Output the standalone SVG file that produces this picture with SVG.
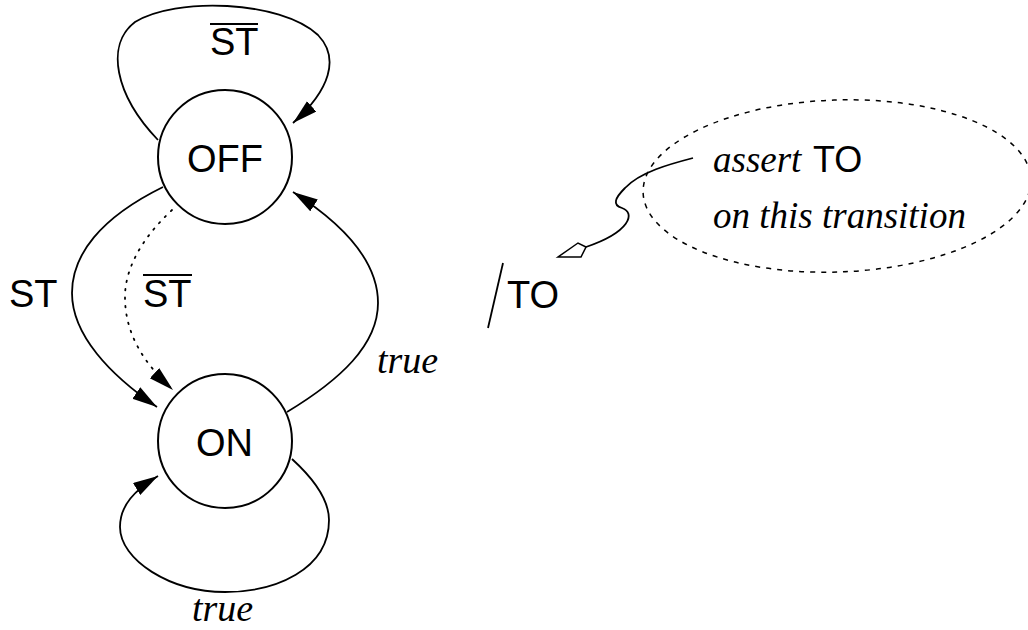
<svg xmlns="http://www.w3.org/2000/svg" width="1028" height="630" viewBox="0 0 1028 630">
<defs>
<marker id="arr" markerUnits="userSpaceOnUse" markerWidth="28" markerHeight="16" refX="25" refY="7" orient="auto">
<path d="M0,0 L25,7 L0,14 z" fill="#000"/>
</marker>
<style>
.st{fill:#fff;stroke:#000;stroke-width:2}
.e{fill:none;stroke:#000;stroke-width:1.8}
.sans{font-family:"Liberation Sans",Arial,sans-serif;font-size:38px;fill:#000}
.ser{font-family:"Liberation Serif","Times New Roman",serif;font-style:italic;font-size:38px;fill:#000}
.ov{stroke:#000;stroke-width:2}
</style>
</defs>
<rect width="1028" height="630" fill="#fff"/>
<g id="connectors">
<path class="e" d="M158,140 C115,95 105,45 135,22 C175,-3 280,0 318,35 C340,58 330,90 293,123" marker-end="url(#arr)"/>
<path class="e" d="M163,187 C100,218 72,255 72,293 C72,335 110,375 157,407" marker-end="url(#arr)"/>
<path class="e" d="M172,210 C140,240 125,270 125,297 C125,330 140,360 173,390" stroke-dasharray="1.5 7" stroke-linecap="round" marker-end="url(#arr)"/>
<path class="e" d="M287,412 C340,380 378,345 378,303 C378,260 340,222 293,192" marker-end="url(#arr)"/>
<path class="e" d="M292,459 C315,480 329,500 329,520 C329,570 275,592 225,592 C170,592 120,560 120,527 C120,505 135,490 158,476" marker-end="url(#arr)"/>
</g>
<g id="OFF">
<circle class="st" cx="225" cy="157" r="67"/>
<text class="sans" x="187" y="172">OFF</text>
</g>
<g id="ON">
<circle class="st" cx="225" cy="441" r="67"/>
<text class="sans" x="196" y="456">ON</text>
</g>
<g id="labels">
<text class="sans" x="210" y="55">ST</text>
<line class="ov" x1="210" y1="24" x2="258" y2="24"/>
<text class="sans" x="9" y="307">ST</text>
<text class="sans" x="143" y="307">ST</text>
<line class="ov" x1="143" y1="275" x2="192" y2="275"/>
<text class="ser" x="377" y="373">true</text>
<text class="ser" x="192" y="621">true</text>
</g>
<g id="action">
<line x1="488" y1="328" x2="503" y2="263" stroke="#000" stroke-width="1.8"/>
<text class="sans" x="507" y="308">TO</text>
</g>
<g id="note">
<ellipse cx="837" cy="186" rx="194" ry="86" fill="none" stroke="#000" stroke-width="1.5" stroke-dasharray="5 6" transform="rotate(-2 837 186)"/>
<path class="e" d="M693,158 C670,164 640,172 625,188 C615,198 612,205 622,208 C636,213 630,232 586,247"/>
<path d="M586,247 L578,243 L558,257 L581,257 Z" fill="#fff" stroke="#000" stroke-width="1.5"/>
<text class="ser" x="713" y="172" style="font-size:37px">assert</text>
<text class="sans" x="813" y="172" style="font-size:36px">TO</text>
<text class="ser" x="713" y="228" style="font-size:37px">on this transition</text>
</g>
</svg>
